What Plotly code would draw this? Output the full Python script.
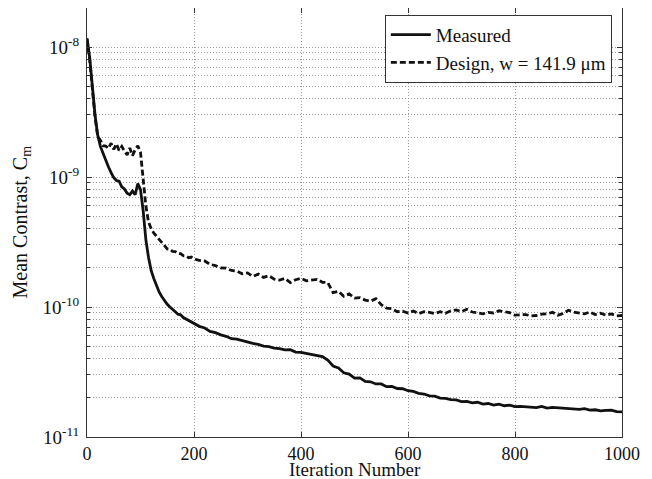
import plotly.graph_objects as go

# Iteration numbers (every 5 up to 200, then every 10)
iterations = list(range(0, 200, 5)) + list(range(200, 1001, 10))

# Measured mean contrast, in units of 1e-11
measured_e11 = [
    1170, 830, 500, 300, 210, 172, 152, 133, 120, 108,
    99, 94, 93, 84, 81, 75, 73, 78, 73, 89,
    80, 55, 33, 24, 19, 16.5, 14.5, 13, 12, 11.2,
    10.5, 10, 9.5, 9.2, 8.8, 8.7, 8.3, 8.1, 7.8, 7.7,
    7.5, 7.1, 6.9, 6.5, 6.35, 6.1, 5.95, 5.7, 5.65, 5.5,
    5.4, 5.25, 5.15, 5.0, 4.95, 4.82, 4.78, 4.68, 4.7, 4.5,
    4.47, 4.38, 4.33, 4.22, 4.15, 3.9, 3.52, 3.4, 3.12, 3.05,
    2.84, 2.85, 2.68, 2.66, 2.56, 2.56, 2.44, 2.45, 2.36, 2.35,
    2.27, 2.24, 2.17, 2.14, 2.07, 2.06, 1.99, 1.98, 1.94, 1.93,
    1.87, 1.88, 1.83, 1.85, 1.79, 1.81, 1.76, 1.79, 1.74, 1.76,
    1.71, 1.72, 1.71, 1.69, 1.68, 1.72, 1.67, 1.69, 1.68, 1.65,
    1.66, 1.63, 1.63, 1.65, 1.61, 1.62, 1.59, 1.60, 1.61, 1.57,
    1.56,
]

# Design (w = 141.9 um) mean contrast, in units of 1e-11
design_e11 = [
    1150, 800, 480, 290, 205, 192, 174, 173, 166, 182,
    163, 180, 160, 172, 158, 148, 167, 146, 162, 174,
    155, 100, 60, 45, 40, 37, 35, 33, 31.5, 30,
    28, 27.8, 26.8, 26.7, 25.8, 25.7, 24.8, 24.7, 23.9, 24.2,
    23.5, 22.8, 22.6, 21.3, 20.8, 20.0, 19.9, 19.1, 18.9, 18.0,
    18.3, 17.2, 17.9, 16.9, 17.4, 16.4, 16.1, 16.6, 15.4, 16.2,
    16.6, 15.9, 16.0, 16.3, 15.5, 15.4, 12.9, 13.2, 12.1, 12.6,
    11.7, 11.8, 11.3, 11.1, 11.6, 10.4, 9.8, 9.7, 9.2, 9.3,
    9.0, 9.3, 8.9, 9.2, 9.1, 8.9, 9.2, 8.95, 9.35, 9.5,
    9.2, 9.6, 9.15, 9.05, 8.85, 9.1, 9.0, 9.35, 9.15, 9.05,
    8.65, 8.7, 8.75, 8.55, 8.6, 8.8, 8.85, 9.1, 8.65, 8.9,
    9.45, 9.15, 9.05, 8.85, 9.15, 8.75, 8.95, 8.65, 8.85, 8.55,
    8.6,
]

y_tickvals = [1e-11, 1e-10, 1e-9, 1e-8]
y_ticktext = ["10<sup>-11</sup>", "10<sup>-10</sup>", "10<sup>-9</sup>", "10<sup>-8</sup>"]
x_tickvals = [0, 200, 400, 600, 800, 1000]

measured = [v * 1e-11 for v in measured_e11]
design = [v * 1e-11 for v in design_e11]

font_family = "Liberation Serif"

fig = go.Figure()
fig.add_trace(go.Scatter(
    x=iterations, y=measured, mode="lines", name="Measured",
    line=dict(color="#111111", width=2.8),
))
fig.add_trace(go.Scatter(
    x=iterations, y=design, mode="lines", name="Design, w = 141.9 \u03bcm",
    line=dict(color="#111111", width=2.8, dash="6px,3px"),
))

grid_color = "#9a9a9a"
fig.update_layout(
    # page body has an 8px margin, so the figure is sized/offset to compensate
    width=644, height=471,
    margin=dict(l=79, r=30, t=0, b=42),
    paper_bgcolor="white", plot_bgcolor="white",
    font=dict(family=font_family, size=19, color="#111111"),
    showlegend=True,
    legend=dict(
        x=0.981, y=0.984, xanchor="right", yanchor="top",
        bgcolor="white", bordercolor="#333333", borderwidth=1,
        font=dict(family=font_family, size=19),
        tracegroupgap=0, itemwidth=40,
    ),
    xaxis=dict(
        range=[0, 1000], tickvals=x_tickvals, tickfont=dict(size=18),
        showline=True, linecolor="#333333", linewidth=1, mirror="ticks",
        ticks="inside", ticklen=5, tickcolor="#333333",
        showgrid=True, gridcolor=grid_color, griddash="1px,2px", gridwidth=1,
        zeroline=False, automargin=False, ticklabelstandoff=0,
    ),
    yaxis=dict(
        type="log", range=[-11, -7.7],
        tickvals=y_tickvals, ticktext=y_ticktext, tickfont=dict(size=19),
        showline=True, linecolor="#333333", linewidth=1, mirror="ticks",
        ticks="inside", ticklen=5, tickcolor="#333333",
        showgrid=True, gridcolor=grid_color, griddash="1px,2px", gridwidth=1,
        minor=dict(dtick="D1", showgrid=True, gridcolor=grid_color, griddash="1px,2px",
                   gridwidth=1, ticks="inside", ticklen=3, tickcolor="#333333"),
        zeroline=False, automargin=False, ticklabelstandoff=3,
    ),
    annotations=[
        dict(text="Iteration Number", xref="paper", yref="paper", x=0.5, y=0,
             xanchor="center", yanchor="top", yshift=-20, showarrow=False,
             font=dict(family=font_family, size=19)),
        dict(text="Mean Contrast, C<sub>m</sub>", xref="paper", yref="paper", x=0, y=0.5,
             xanchor="center", yanchor="middle", xshift=-66, textangle=-90, showarrow=False,
             font=dict(family=font_family, size=20)),
    ],
)

fig.write_html("out.html")
